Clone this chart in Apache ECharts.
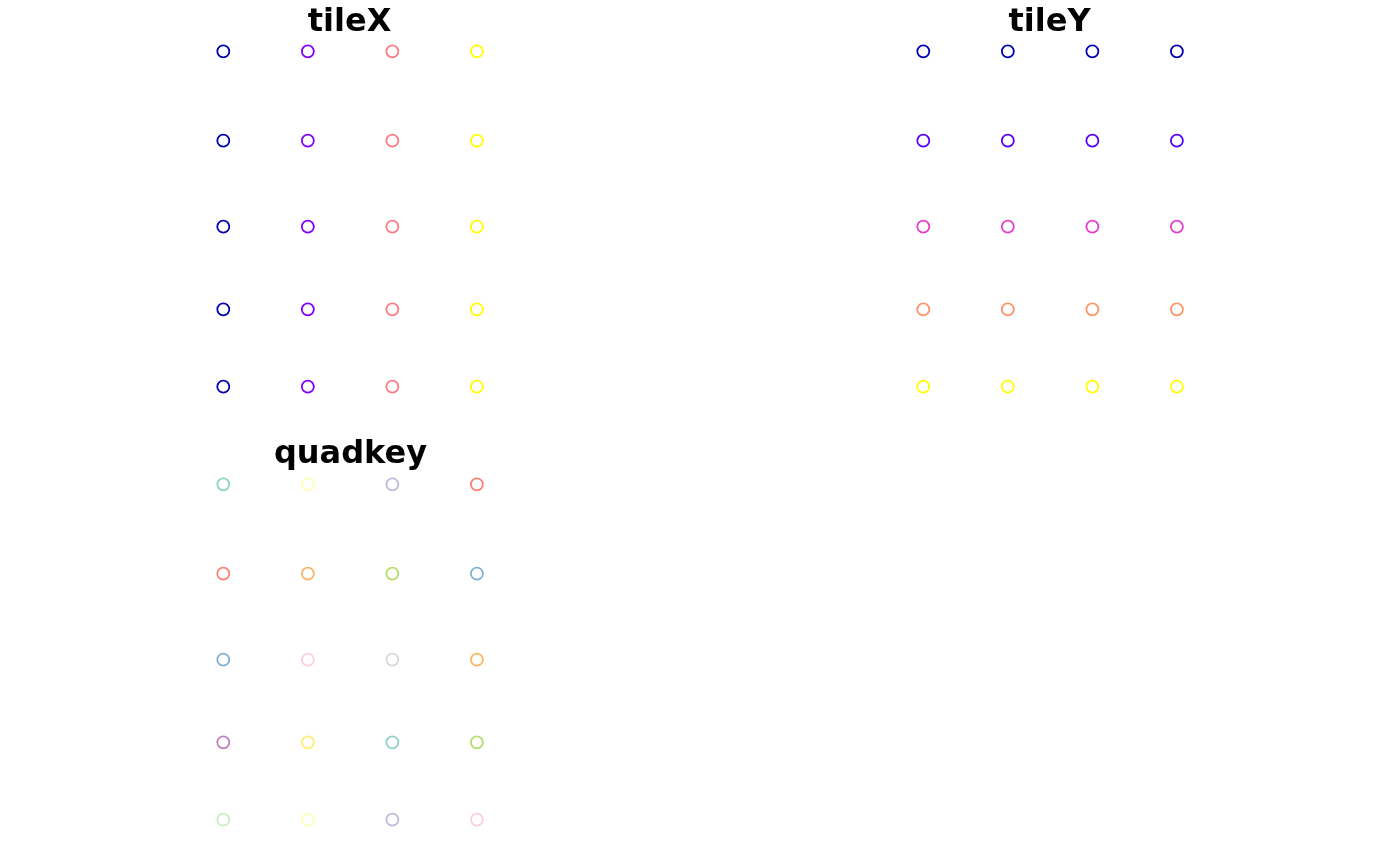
<!DOCTYPE html>
<html>
<head>
<meta charset="utf-8">
<script src="https://cdn.jsdelivr.net/npm/echarts@6/dist/echarts.min.js"></script>
<style>html,body{margin:0;padding:0;background:#fff;}#c{width:1400px;height:866px;}</style>
</head>
<body>
<div id="c"></div>
<script>
// Point grid coordinates (relative map units)
const colX = [0, 1, 2, 3];
const rowY = [0, -1.057, -2.074, -3.051, -3.966];

// Attribute values
const tileX = [0, 1, 2, 3];            // one per column
const tileY = [0, 1, 2, 3, 4];         // one per row
// quadkey factor level (1..20) of each point, row-major (5 rows x 4 columns)
const quadkeyLevel = [
  1, 2, 3, 4,
  16, 6, 7, 5,
  17, 8, 9, 18,
  10, 12, 13, 19,
  11, 14, 15, 20
];

// Palettes
const tileXColors = ['#0000B0', '#8000FF', '#FF7A85', '#FFFF00'];
const tileYColors = ['#0000B3', '#5500FF', '#E63CCC', '#FF9466', '#FFFF00'];
const set3 = ['#8DD3C7','#FFFFB3','#BEBADA','#FB8072','#80B1D3','#FDB462','#B3DE69','#FCCDE5','#D9D9D9','#BC80BD','#CCEBC5','#FFED6F'];

const titles = ['tileX', 'tileY', 'quadkey'];

function buildPoints(colorFn) {
  const pts = [];
  rowY.forEach((y, r) => {
    colX.forEach((x, c) => {
      pts.push({ value: [x, y], itemStyle: { borderColor: colorFn(r, c) } });
    });
  });
  return pts;
}

const colorFns = [
  (r, c) => tileXColors[tileX.indexOf(tileX[c])],
  (r, c) => tileYColors[tileY.indexOf(tileY[r])],
  (r, c) => set3[(quadkeyLevel[r * colX.length + c] - 1) % set3.length]
];

const xmin = Math.min(...colX), xmax = Math.max(...colX);
const ymin = Math.min(...rowY), ymax = Math.max(...rowY);

const panelPos = [
  { left: 223.3, top: 51.3, tx: 349.5, ty: 23 },
  { left: 923.3, top: 51.3, tx: 1049.5, ty: 23 },
  { left: 223.3, top: 484.3, tx: 350.5, ty: 455 }
];
const gw = 253.6, gh = 335.4;

const option = {
  backgroundColor: '#ffffff',
  animation: false,
  grid: panelPos.map(p => ({ left: p.left, top: p.top, width: gw, height: gh, containLabel: false })),
  xAxis: panelPos.map((p, i) => ({ gridIndex: i, type: 'value', min: xmin, max: xmax, show: false })),
  yAxis: panelPos.map((p, i) => ({ gridIndex: i, type: 'value', min: ymin, max: ymax, show: false })),
  graphic: panelPos.map((p, i) => ({
    type: 'text', x: p.tx, y: p.ty,
    style: { text: titles[i], fill: '#000', font: 'bold 32px "DejaVu Sans"', textAlign: 'center', textVerticalAlign: 'middle' }
  })),
  series: panelPos.map((p, i) => ({
    type: 'scatter', xAxisIndex: i, yAxisIndex: i,
    symbol: 'circle', symbolSize: 12,
    itemStyle: { color: 'rgba(0,0,0,0)', borderWidth: 1.8, opacity: 1 },
    data: buildPoints(colorFns[i])
  }))
};

const chart = echarts.init(document.getElementById('c'), null, { renderer: 'canvas' });
chart.setOption(option);
</script>
</body>
</html>
